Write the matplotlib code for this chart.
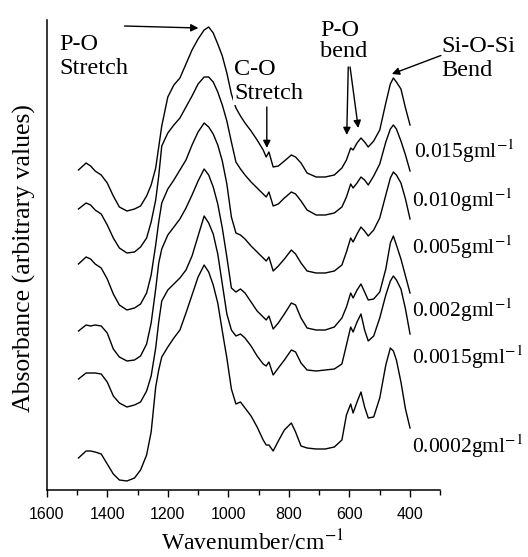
import matplotlib

matplotlib.use("Agg")
import matplotlib.pyplot as plt
from matplotlib.ticker import MultipleLocator

plt.rcParams["mathtext.fontset"] = "stix"

# wavenumber grid (cm^-1) shared by all spectra
wavenumber = [1495, 1470, 1455, 1440, 1420, 1400, 1380, 1360, 1335, 1310,
              1290, 1270, 1255, 1240, 1230, 1220, 1200, 1180, 1160, 1140,
              1120, 1100, 1080, 1065, 1050, 1035, 1020, 1005, 990, 975,
              960, 945, 925, 905, 885, 875, 866, 852, 835, 815,
              792, 778, 760, 740, 710, 680, 650, 625, 610, 596,
              588, 575, 562, 550, 538, 520, 500, 480, 465, 455,
              445, 430, 415, 400]

# stacked absorbance (arbitrary units, offset included)
abs_0015 = [3.20, 3.27, 3.24, 3.19, 3.15, 3.07, 2.94, 2.83, 2.79, 2.81,
            2.84, 2.94, 3.05, 3.22, 3.43, 3.64, 3.93, 4.05, 4.12, 4.26,
            4.40, 4.51, 4.60, 4.63, 4.57, 4.46, 4.34, 4.17, 3.96, 3.82,
            3.74, 3.67, 3.59, 3.50, 3.40, 3.33, 3.38, 3.23, 3.24, 3.29,
            3.35, 3.33, 3.27, 3.17, 3.13, 3.13, 3.15, 3.22, 3.30, 3.42,
            3.40, 3.47, 3.52, 3.48, 3.43, 3.49, 3.60, 3.87, 4.06, 4.12,
            4.08, 4.01, 3.82, 3.65]
abs_0010 = [2.81, 2.87, 2.85, 2.80, 2.76, 2.65, 2.52, 2.42, 2.37, 2.38,
            2.43, 2.52, 2.68, 2.90, 3.14, 3.44, 3.57, 3.65, 3.72, 3.83,
            3.94, 4.06, 4.13, 4.13, 4.08, 3.98, 3.85, 3.69, 3.48, 3.28,
            3.21, 3.15, 3.08, 3.02, 2.96, 2.93, 2.98, 2.84, 2.86, 2.92,
            2.98, 2.96, 2.89, 2.80, 2.75, 2.75, 2.77, 2.83, 2.93, 3.06,
            3.02, 3.07, 3.13, 3.10, 3.05, 3.14, 3.26, 3.48, 3.61, 3.65,
            3.61, 3.49, 3.35, 3.19]
abs_0005 = [2.26, 2.33, 2.31, 2.26, 2.22, 2.11, 1.96, 1.85, 1.80, 1.82,
            1.86, 1.97, 2.15, 2.45, 2.68, 2.87, 3.01, 3.10, 3.20, 3.30,
            3.45, 3.58, 3.67, 3.63, 3.56, 3.45, 3.29, 3.06, 2.73, 2.57,
            2.55, 2.51, 2.44, 2.38, 2.32, 2.29, 2.33, 2.19, 2.24, 2.31,
            2.40, 2.36, 2.27, 2.19, 2.17, 2.17, 2.19, 2.25, 2.38, 2.52,
            2.48, 2.56, 2.63, 2.59, 2.54, 2.60, 2.72, 2.95, 3.12, 3.18,
            3.15, 3.07, 2.91, 2.71]
abs_0002 = [1.59, 1.65, 1.64, 1.65, 1.64, 1.57, 1.41, 1.33, 1.29, 1.30,
            1.34, 1.46, 1.67, 2.01, 2.27, 2.41, 2.55, 2.63, 2.71, 2.82,
            2.95, 3.09, 3.21, 3.15, 3.03, 2.86, 2.62, 2.33, 2.02, 1.98,
            2.01, 1.97, 1.88, 1.79, 1.73, 1.70, 1.74, 1.61, 1.67, 1.76,
            1.87, 1.85, 1.72, 1.62, 1.60, 1.60, 1.63, 1.72, 1.83, 1.97,
            1.92, 2.00, 2.06, 1.98, 1.90, 1.91, 1.98, 2.21, 2.47, 2.54,
            2.45, 2.31, 2.14, 1.97]
abs_00015 = [1.11, 1.17, 1.17, 1.17, 1.16, 1.08, 0.94, 0.87, 0.83, 0.85,
             0.88, 0.99, 1.14, 1.42, 1.68, 1.89, 2.00, 2.06, 2.12, 2.20,
             2.34, 2.54, 2.74, 2.67, 2.56, 2.36, 2.06, 1.76, 1.60, 1.54,
             1.56, 1.52, 1.44, 1.34, 1.26, 1.24, 1.28, 1.15, 1.22, 1.30,
             1.40, 1.38, 1.27, 1.20, 1.19, 1.20, 1.21, 1.26, 1.45, 1.63,
             1.58, 1.68, 1.76, 1.60, 1.49, 1.54, 1.72, 1.95, 2.09, 2.14,
             2.10, 2.01, 1.81, 1.56]
abs_00002 = [0.32, 0.39, 0.39, 0.38, 0.36, 0.26, 0.16, 0.10, 0.09, 0.12,
             0.20, 0.35, 0.58, 1.03, 1.20, 1.33, 1.43, 1.52, 1.60, 1.77,
             1.95, 2.13, 2.25, 2.18, 2.05, 1.87, 1.59, 1.32, 1.01, 0.86,
             0.88, 0.82, 0.74, 0.63, 0.50, 0.45, 0.45, 0.39, 0.49, 0.60,
             0.67, 0.58, 0.44, 0.42, 0.41, 0.41, 0.43, 0.50, 0.75, 0.86,
             0.77, 0.88, 0.98, 0.83, 0.72, 0.73, 0.92, 1.25, 1.42, 1.39,
             1.30, 1.08, 0.81, 0.62]

spectra = [abs_0015, abs_0010, abs_0005, abs_0002, abs_00015, abs_00002]
concentrations = ["0.015", "0.010", "0.005", "0.002", "0.0015", "0.0002"]

# reference canvas in pixels, used only for placing text
W, H = 528, 557
SERIF = "Liberation Serif"


def fig_xy(px, py):
    return px / W, 1 - py / H


def main() -> None:
    fig = plt.figure(figsize=(W / 100, H / 100), dpi=100)
    ax = fig.add_axes([46.7 / W, 67 / H, 393.6 / W, 470 / H])

    for values in spectra:
        ax.plot(wavenumber, values, color="black", lw=1.0)

    ax.set_xlim(1600, 300)
    ax.set_ylim(0, 4.70)
    ax.set_yticks([])
    ax.xaxis.set_major_locator(MultipleLocator(200))
    ax.xaxis.set_minor_locator(MultipleLocator(100))
    ax.tick_params(axis="x", which="major", length=5, width=1, pad=7)
    ax.tick_params(axis="x", which="minor", length=3.5, width=1)
    for lab in ax.get_xticklabels():
        lab.set_fontfamily("Liberation Sans")
        lab.set_fontsize(11.5)
    for side in ("top", "right"):
        ax.spines[side].set_visible(False)
    for side in ("left", "bottom"):
        ax.spines[side].set_linewidth(1.1)

    # axis titles
    x, y = fig_xy(252, 550)
    fig.text(x, y, "Wavenumber/cm$^{-1}$", family=SERIF, fontsize=17,
             ha="center", va="baseline")
    x, y = fig_xy(24.5, 258)
    fig.text(x, y, "Absorbance (arbitrary values)", family=SERIF, fontsize=18.5,
             rotation=90, ha="center", va="center")

    # concentration labels at the right end of each trace
    label_pos = [(414, 158), (412.5, 207), (412.5, 254),
                 (412.5, 317), (412.5, 364), (412.5, 453)]
    for conc, (px, py) in zip(concentrations, label_pos):
        x, y = fig_xy(px, py)
        fig.text(x, y, conc + "gml$^{-1}$", family=SERIF, fontsize=15.5,
                 ha="left", va="baseline")

    # band annotations (position = baseline of the last line)
    notes = [("P-O\nStretch", 59, 74, 1.2, False),
             ("C-O\nStretch", 234, 99, 1.2, True),
             ("P-O\nbend", 320, 57, 1.0, False),
             ("Si-O-Si\nBend", 441, 76, 1.2, False)]
    for txt, px, py, ls, boxed in notes:
        x, y = fig_xy(px, py)
        kw = {}
        if boxed:
            kw["bbox"] = dict(facecolor="white", edgecolor="none", pad=0.5)
        fig.text(x, y, txt, family=SERIF, fontsize=17.5, ha="left",
                 va="baseline", linespacing=ls, zorder=5, **kw)

    arrow = dict(arrowstyle="-|>", color="black", lw=1.0,
                 mutation_scale=11, shrinkA=0, shrinkB=0)
    arrows = [((1343, 4.64), (1099, 4.62)),
              ((873, 3.83), (873, 3.42)),
              ((604, 4.23), (609, 3.55)),
              ((598, 4.23), (571, 3.62)),
              ((298, 4.345), (460, 4.16))]
    for tail, head in arrows:
        ax.annotate("", xy=head, xytext=tail, xycoords="data",
                    textcoords="data", arrowprops=arrow, annotation_clip=False)

    fig.savefig("out.png", dpi=100)
    plt.close(fig)


if __name__ == "__main__":
    main()
